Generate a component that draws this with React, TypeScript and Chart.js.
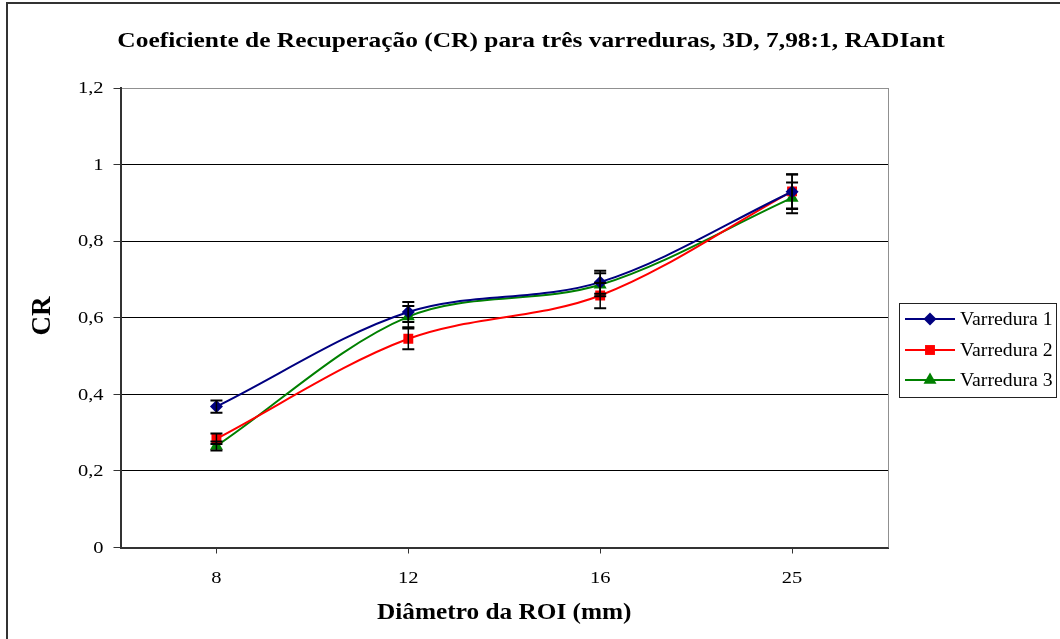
import React, { useEffect, useRef } from "react";
import { Chart, registerables } from "chart.js";

Chart.register(...registerables);

const CATEGORIES = ["8", "12", "16", "25"];
const Y_TICK_LABELS = ["0", "0,2", "0,4", "0,6", "0,8", "1", "1,2"];
const SERIES_NAMES = ["Varredura 1", "Varredura 2", "Varredura 3"];
const V1 = [0.368, 0.615, 0.693, 0.929];
const V2 = [0.284, 0.545, 0.658, 0.930];
const V3 = [0.265, 0.603, 0.686, 0.913];
const E1 = [0.016, 0.026, 0.03, 0.045];
const E2 = [0.014, 0.027, 0.033, 0.045];
const E3 = [0.012, 0.028, 0.03, 0.04];
const COLORS = ["#000080", "#ff0000", "#008000"];
const POINT_STYLES = ["rectRot", "rect", "triangle"];

const TITLE = "Coeficiente de Recuperação (CR) para três varreduras, 3D, 7,98:1, RADIant";
const X_TITLE = "Diâmetro da ROI (mm)";
const Y_TITLE = "CR";

const SERIF = "'Liberation Serif', 'Times New Roman', serif";

const ERRORS = [E1, E2, E3];

function stretchedText(
  ctx: CanvasRenderingContext2D,
  text: string,
  x: number,
  y: number,
  font: string,
  sx: number,
  align: CanvasTextAlign
) {
  ctx.save();
  ctx.translate(x, y);
  ctx.scale(sx, 1);
  ctx.font = font;
  ctx.textAlign = align;
  ctx.textBaseline = "middle";
  ctx.fillText(text, 0, 0);
  ctx.restore();
}

const errorBarPlugin = {
  id: "errorBars",
  afterDatasetsDraw(chart: any) {
    const ctx = chart.ctx;
    const y = chart.scales.y;
    ctx.save();
    ctx.strokeStyle = "#000";
    chart.data.datasets.forEach((ds: any, i: number) => {
      const meta = chart.getDatasetMeta(i);
      meta.data.forEach((pt: any, j: number) => {
        const v = ds.data[j];
        const e = ERRORS[i][j];
        const top = y.getPixelForValue(v + e);
        const bot = y.getPixelForValue(v - e);
        const x = pt.x;
        ctx.lineWidth = 1.5;
        ctx.beginPath();
        ctx.moveTo(x, top);
        ctx.lineTo(x, bot);
        ctx.stroke();
        ctx.lineWidth = 2;
        ctx.beginPath();
        ctx.moveTo(x - 6, top);
        ctx.lineTo(x + 6, top);
        ctx.moveTo(x - 6, bot);
        ctx.lineTo(x + 6, bot);
        ctx.stroke();
      });
    });
    ctx.restore();
  },
};

function drawMarker(ctx: CanvasRenderingContext2D, style: string, x: number, y: number, r: number) {
  ctx.beginPath();
  if (style === "rectRot") {
    ctx.moveTo(x, y - r);
    ctx.lineTo(x + r, y);
    ctx.lineTo(x, y + r);
    ctx.lineTo(x - r, y);
  } else if (style === "rect") {
    const s = r * Math.SQRT1_2;
    ctx.rect(x - s, y - s, 2 * s, 2 * s);
  } else {
    ctx.moveTo(x - r * 0.866, y + r * 0.5);
    ctx.lineTo(x + r * 0.866, y + r * 0.5);
    ctx.lineTo(x, y - r);
  }
  ctx.closePath();
  ctx.fill();
}

const decorPlugin = {
  id: "decor",
  afterDraw(chart: any) {
    const ctx = chart.ctx;
    const area = chart.chartArea;
    const xs = chart.scales.x;
    const ys = chart.scales.y;
    ctx.save();
    // plot border (right)
    ctx.strokeStyle = "#909090";
    ctx.lineWidth = 1;
    ctx.beginPath();
    ctx.moveTo(area.right + 0.5, area.top);
    ctx.lineTo(area.right + 0.5, area.bottom);
    ctx.stroke();

    // frame
    ctx.fillStyle = "#333";
    ctx.fillRect(6, 2, 2, 639);
    ctx.fillRect(6, 2, 1060, 2);

    ctx.fillStyle = "#000";
    // tick labels
    const tickFont = `16px ${SERIF}`;
    ys.ticks.forEach((_t: any, i: number) => {
      stretchedText(ctx, Y_TICK_LABELS[i], 103.5, ys.getPixelForTick(i) + 1, tickFont, 1.28, "right");
    });
    xs.ticks.forEach((_t: any, i: number) => {
      stretchedText(ctx, CATEGORIES[i], xs.getPixelForTick(i), 578.5, tickFont, 1.28, "center");
    });

    // title
    stretchedText(ctx, TITLE, 531, 42, `bold 21px ${SERIF}`, 1.21, "center");

    // x title
    stretchedText(ctx, X_TITLE, (area.left + area.right) / 2, 613, `bold 23px ${SERIF}`, 1.1, "center");

    // y title
    ctx.save();
    ctx.translate(43, 316);
    ctx.rotate(-Math.PI / 2);
    ctx.font = `bold 27px ${SERIF}`;
    ctx.textAlign = "center";
    ctx.textBaseline = "middle";
    ctx.fillText(Y_TITLE, 0, 0);
    ctx.restore();

    // legend
    const lx = 899, ly = 303, lw = 157, lh = 94;
    ctx.fillStyle = "#fff";
    ctx.fillRect(lx, ly, lw, lh);
    ctx.strokeStyle = "#222";
    ctx.lineWidth = 1;
    ctx.strokeRect(lx + 0.5, ly + 0.5, lw, lh);
    const rows = [319, 350, 380];
    chart.data.datasets.forEach((ds: any, i: number) => {
      const ry = rows[i];
      ctx.strokeStyle = ds.borderColor;
      ctx.lineWidth = 2;
      ctx.beginPath();
      ctx.moveTo(905, ry);
      ctx.lineTo(955, ry);
      ctx.stroke();
      ctx.fillStyle = ds.backgroundColor;
      drawMarker(ctx, POINT_STYLES[i], 930, ry, ds.pointRadius);
      ctx.fillStyle = "#000";
      stretchedText(ctx, ds.label, 960, ry + 1, `19px ${SERIF}`, 1.04, "left");
    });
    ctx.restore();
  },
};

export default function App() {
  const ref = useRef<HTMLCanvasElement | null>(null);
  useEffect(() => {
    document.body.style.margin = "0";
    const canvas = ref.current!;
    const values = [V1, V2, V3];
    const radii = [6.5, 7, 7.5];
    const chart = new Chart(canvas, {
      type: "line",
      data: {
        labels: CATEGORIES,
        datasets: values.map((d, i) => ({
          label: SERIES_NAMES[i],
          data: d,
          borderColor: COLORS[i],
          backgroundColor: COLORS[i],
          borderWidth: 2,
          pointStyle: POINT_STYLES[i] as any,
          pointRadius: radii[i],
          pointBorderWidth: 0,
          pointBackgroundColor: COLORS[i],
          tension: 0.33,
          fill: false,
        })),
      },
      options: {
        responsive: false,
        animation: false,
        events: [],
        layout: { padding: { top: 88, right: 172, left: 0, bottom: 0 } },
        plugins: {
          legend: { display: false },
          title: { display: false },
          tooltip: { enabled: false },
        },
        scales: {
          x: {
            type: "category",
            offset: true,
            grid: { drawOnChartArea: false, offset: false, tickLength: 6, color: "#333", lineWidth: 1 },
            border: { color: "#333", width: 2 },
            ticks: { font: { family: SERIF, size: 18 }, color: "rgba(0,0,0,0)", padding: 12 },
            afterFit: (s: any) => {
              s.height = 639 - 547.5;
            },
          },
          y: {
            min: 0,
            max: 1.2,
            ticks: {
              stepSize: 0.2,
              font: { family: SERIF, size: 18 },
              color: "rgba(0,0,0,0)",
              padding: 9,
              callback: (_v: any, idx: number) => Y_TICK_LABELS[idx],
            },
            grid: {
              color: (c: any) => (c.index === Y_TICK_LABELS.length - 1 ? "#909090" : "#000"),
              tickColor: "#333",
              tickLength: 7,
              lineWidth: 1,
            },
            border: { color: "#333", width: 2 },
            afterFit: (s: any) => {
              s.width = 120.5;
            },
          },
        },
      },
      plugins: [errorBarPlugin, decorPlugin],
    } as any);
    return () => chart.destroy();
  }, []);
  return (
    <div style={{ width: 1060, height: 639, position: "relative", background: "#fff" }}>
      <canvas ref={ref} width={1060} height={639} style={{ display: "block" }} />
    </div>
  );
}
